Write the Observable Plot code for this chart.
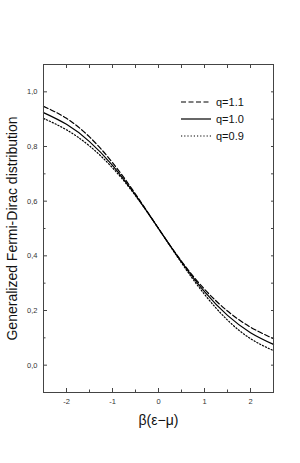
<!DOCTYPE html>
<html><head><meta charset="utf-8">
<script src="https://cdn.jsdelivr.net/npm/d3@7"></script>
<script src="https://cdn.jsdelivr.net/npm/@observablehq/plot@0.6"></script>
<style>
body{margin:0;background:#fff}
#c{position:relative;width:300px;height:463px;font-family:"Liberation Sans",Arial,sans-serif}
#legend{position:absolute;left:181px;top:93px;font-size:11px;color:#111}
#legend div{display:flex;align-items:center;height:17px}
#legend svg{margin-right:5px}
</style></head>
<body><div id="c"><div id="legend"></div></div>
<script>
// data
const xValues = [-2.5, -2, -1.5, -1, -0.5, 0, 0.5, 1, 1.5, 2, 2.5];
const q11 = [0.947, 0.903, 0.835, 0.741, 0.626, 0.5, 0.380, 0.278, 0.198, 0.139, 0.097];
const q10 = [0.924, 0.881, 0.818, 0.731, 0.622, 0.5, 0.378, 0.269, 0.182, 0.119, 0.076];
const q09 = [0.903, 0.861, 0.802, 0.722, 0.620, 0.5, 0.374, 0.259, 0.165, 0.097, 0.053];
const seriesNames = ["q=1.1", "q=1.0", "q=0.9"];
const xMajor = [-2, -1, 0, 1, 2];
const xMinor = [-2.5, -1.5, -0.5, 0.5, 1.5, 2.5];
const yMajor = [0, 0.2, 0.4, 0.6, 0.8, 1.0];
const yMinor = [-0.1, 0.1, 0.3, 0.5, 0.7, 0.9, 1.1];

const seriesValues = [q11, q10, q09];
const dash = {"q=1.1": "5,2.5", "q=1.0": null, "q=0.9": "1.2,2"};
const rows = [];
seriesNames.forEach((s, i) => xValues.forEach((x, j) => rows.push({series: s, x, y: seriesValues[i][j]})));

const fmt = d => d.toFixed(1).replace(".", ",");
const blank = () => "";

const lines = seriesNames.map(s => Plot.line(rows.filter(r => r.series === s), {
  x: "x", y: "y", curve: "natural", stroke: "#000", strokeWidth: 1.2, strokeDasharray: dash[s]
}));

const chart = Plot.plot({
  width: 300, height: 463,
  marginLeft: 43, marginRight: 27, marginTop: 64, marginBottom: 71,
  style: {fontFamily: '"Liberation Sans", Arial, sans-serif', background: "#fff", color: "#333"},
  x: {domain: [-2.5, 2.5]},
  y: {domain: [-0.1, 1.1]},
  marks: [
    ...lines,
    Plot.axisX(xMajor, {anchor: "bottom", tickSize: 0, tickPadding: 6, tickFormat: d => d, fontSize: 7.5, fill: "#333", label: null}),
    Plot.axisX(xMajor, {anchor: "bottom", tickSize: -4, tickFormat: blank, label: null, stroke: "#444"}),
    Plot.axisX(xMinor, {anchor: "bottom", tickSize: -2.5, tickFormat: blank, label: null, stroke: "#444"}),
    Plot.axisX([...xMajor, ...xMinor], {anchor: "top", tickSize: -3, tickFormat: blank, label: null, stroke: "#444"}),
    Plot.axisY(yMajor, {anchor: "left", tickSize: 0, tickPadding: 6, tickFormat: fmt, fontSize: 7.5, fill: "#333", label: null}),
    Plot.axisY(yMajor, {anchor: "left", tickSize: -4, tickFormat: blank, label: null, stroke: "#444"}),
    Plot.axisY(yMinor, {anchor: "left", tickSize: -2.5, tickFormat: blank, label: null, stroke: "#444"}),
    Plot.axisY([...yMajor, ...yMinor], {anchor: "right", tickSize: -3, tickFormat: blank, label: null, stroke: "#444"}),
    Plot.frame({stroke: "#444", strokeWidth: 1}),
    Plot.text(["β(ε−μ)"], {frameAnchor: "bottom", dy: 32, fontSize: 14, fill: "#111"}),
    Plot.text(["Generalized Fermi-Dirac distribution"], {frameAnchor: "left", textAnchor: "middle", dx: -31, rotate: -90, fontSize: 14, fill: "#111"})
  ]
});
document.getElementById("c").prepend(chart);

const legend = document.getElementById("legend");
seriesNames.forEach(s => {
  const row = document.createElement("div");
  row.innerHTML = `<svg width="30" height="6"><line x1="0" x2="30" y1="3" y2="3" stroke="#000" stroke-width="1.2" ${dash[s] ? `stroke-dasharray="${dash[s]}"` : ""}/></svg><span>${s}</span>`;
  legend.appendChild(row);
});
</script>
</body></html>
